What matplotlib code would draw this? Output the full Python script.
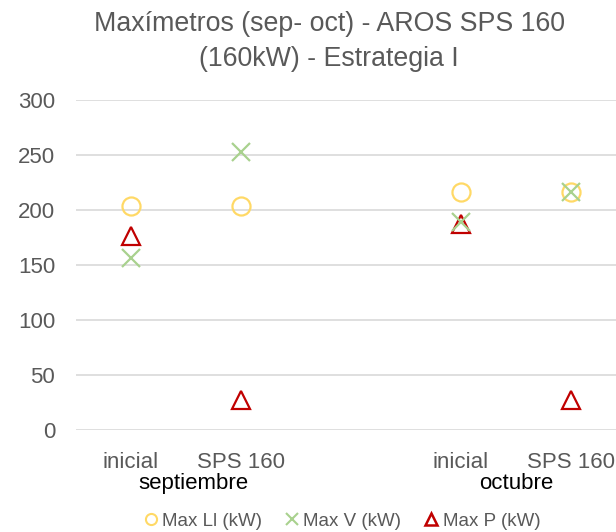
import numpy as np
import matplotlib.pyplot as plt
from matplotlib.lines import Line2D

# datos
categorias = ["inicial", "SPS 160", "", "inicial", "SPS 160"]
grupos = ["septiembre", "octubre"]
max_ll = [204, 204, np.nan, 216, 216]
max_v = [156, 253, np.nan, 189, 216]
max_p = [176, 27, np.nan, 187, 27]
yticks = [0, 50, 100, 150, 200, 250, 300]

plt.rcParams['font.family'] = ['Liberation Sans', 'DejaVu Sans']

fig = plt.figure(figsize=(6.16, 5.32), dpi=100)
ax = fig.add_axes([76/616, 1-430/532, 1-76/616, 330/532])

x = np.arange(len(categorias))
ax.plot(x, max_ll, linestyle='none', marker='o', markersize=13, markerfacecolor='none',
        markeredgecolor='#FFD966', markeredgewidth=1.6, label='Max Ll (kW)', zorder=3)
ax.plot(x, max_v, linestyle='none', marker='x', markersize=13,
        color='#A9D18E', markeredgewidth=1.6, label='Max V (kW)', zorder=4)
ax.plot(x, max_p, linestyle='none', marker='^', markersize=13, markerfacecolor='none',
        markeredgecolor='#C00000', markeredgewidth=1.6, label='Max P (kW)', zorder=3)

ax.set_xlim(-0.5, (616-131)/110)
ax.set_ylim(0, 300)
ax.set_yticks(yticks)
ax.yaxis.grid(True, color='#D9D9D9', linewidth=1.2)
ax.set_axisbelow(True)
for s in ax.spines.values():
    s.set_visible(False)
ax.tick_params(axis='both', length=0, labelsize=16, labelcolor='#595959')
ax.tick_params(axis='y', pad=15)

ax.set_xticks([0, 1, 3, 4])
ax.set_xticklabels([categorias[i] for i in [0, 1, 3, 4]])
ax.tick_params(axis='x', pad=16)

# etiquetas de grupo
tr = ax.get_xaxis_transform()
ax.text(0.57, -0.13, grupos[0], transform=tr, ha='center', va='top', fontsize=16, color='black')
ax.text(3.5, -0.13, grupos[1], transform=tr, ha='center', va='top', fontsize=16, color='black')

fig.text(329/616, 0.98, "Maxímetros (sep- oct) - AROS SPS 160\n(160kW) - Estrategia I",
         ha='center', va='top', fontsize=19.3, color='#595959', linespacing=1.45)

handles = [
    Line2D([], [], linestyle='none', marker='o', markersize=8, markerfacecolor='none',
           markeredgecolor='#FFD966', markeredgewidth=1.5),
    Line2D([], [], linestyle='none', marker='x', markersize=8, color='#A9D18E', markeredgewidth=1.5),
    Line2D([], [], linestyle='none', marker='^', markersize=8, markerfacecolor='none',
           markeredgecolor='#C00000', markeredgewidth=1.8),
]
fig.legend(handles, ['Max Ll (kW)', 'Max V (kW)', 'Max P (kW)'], loc='center',
           bbox_to_anchor=(340/616, 1-521/532), ncol=3, frameon=False, fontsize=13.5,
           handletextpad=0.0, columnspacing=1.0, labelcolor='#595959', handlelength=1.2)

fig.savefig('out.png', dpi=100)
